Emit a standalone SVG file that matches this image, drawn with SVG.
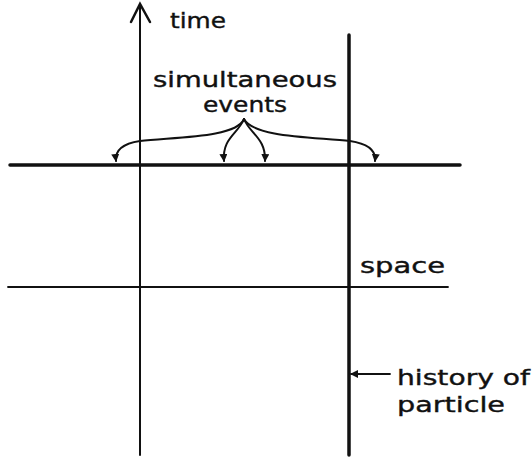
<svg xmlns="http://www.w3.org/2000/svg" width="532" height="463" viewBox="0 0 532 463">
<style>
.t{font-family:"DejaVu Sans","Lato",sans-serif;font-size:22px;fill:#111;stroke:#111;stroke-width:0.4}
.ln{stroke:#111;fill:none;stroke-linecap:round}
</style>
<defs>
<marker id="ah" markerWidth="8" markerHeight="8" refX="7" refY="4" orient="auto" markerUnits="userSpaceOnUse">
<path d="M0,0 L8,4 L0,8 Z" fill="#111"/>
</marker>
</defs>
<rect width="532" height="463" fill="#fff"/>
<g id="axes">
<line class="ln" x1="10" y1="165" x2="460" y2="165" stroke-width="3.5"/>
<line class="ln" x1="8" y1="287" x2="448" y2="287" stroke-width="1.8"/>
<line class="ln" x1="140" y1="6" x2="140" y2="455" stroke-width="2"/>
<path class="ln" d="M131,22 L140,4 L150,22" stroke-width="2.5"/>
</g>
<g id="particle">
<line class="ln" x1="349" y1="35" x2="349" y2="455" stroke-width="3.5"/>
</g>
<g id="labels">
<text class="t" x="170" y="28" textLength="56" lengthAdjust="spacingAndGlyphs">time</text>
<text class="t" x="153" y="87" textLength="184" lengthAdjust="spacingAndGlyphs">simultaneous</text>
<text class="t" x="203" y="112" textLength="84" lengthAdjust="spacingAndGlyphs">events</text>
<text class="t" x="360" y="273" textLength="85" lengthAdjust="spacingAndGlyphs">space</text>
<text class="t" x="397" y="385" textLength="133" lengthAdjust="spacingAndGlyphs">history of</text>
<text class="t" x="397" y="412" textLength="108" lengthAdjust="spacingAndGlyphs">particle</text>
</g>
<g id="connectors">
<path class="ln" stroke-width="2" marker-end="url(#ah)" d="M244,119 C236,138 175,137 140,141 C120,144 115,152 116,161"/>
<path class="ln" stroke-width="2" marker-end="url(#ah)" d="M244,119 C238,134 222,138 224,161"/>
<path class="ln" stroke-width="2" marker-end="url(#ah)" d="M244,119 C250,134 266,138 265,161"/>
<path class="ln" stroke-width="2" marker-end="url(#ah)" d="M244,119 C254,138 318,137 350,141 C370,144 376,152 375,161"/>
<path class="ln" stroke-width="1.8" marker-end="url(#ah)" d="M390,374 L351,374"/>
</g>
</svg>
